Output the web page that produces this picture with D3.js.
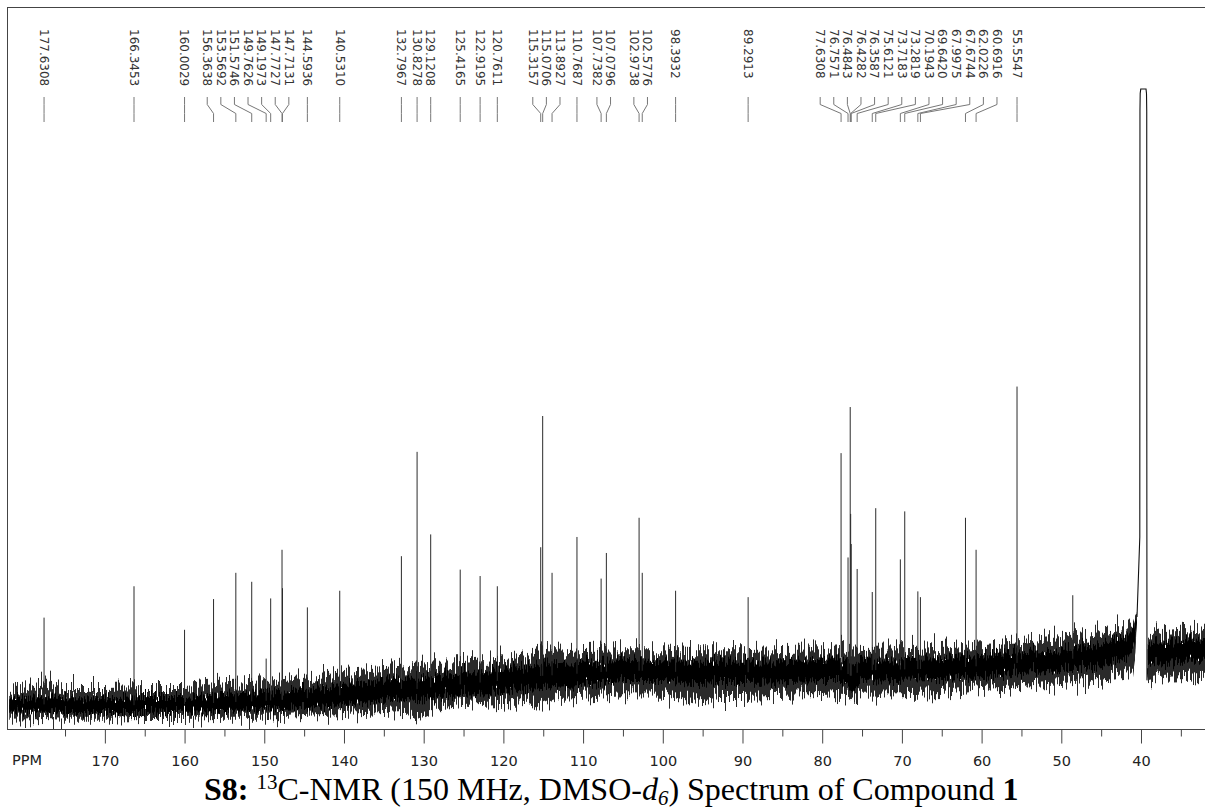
<!DOCTYPE html>
<html><head><meta charset="utf-8">
<script src="https://cdn.jsdelivr.net/npm/d3@7/dist/d3.min.js"></script>
<style>html,body{margin:0;padding:0;background:#fff;}svg{display:block;}</style>
</head><body>
<svg id="chart" width="1205" height="811"></svg>
<script>
// ---------------- data ----------------
const xDomain = [182.28, 31.97];          // ppm shown from left edge to right edge
const yDomain = [0, 112.8];               // relative intensity (solvent apex = 100)
const majorTicks = [170,160,150,140,130,120,110,100,90,80,70,60,50,40];
const minorTicks = [175,165,155,145,135,125,115,105,95,85,75,65,55,45,35];
const axisName = "PPM";

const peakPpm = [177.6308,166.3453,160.0029,156.3638,153.5692,151.5746,149.7626,149.1973,147.7727,147.7131,
  144.5936,140.5310,132.7967,130.8278,129.1208,125.4165,122.9195,120.7611,115.3157,115.0706,113.8927,
  110.7687,107.7382,107.0796,102.9738,102.5776,98.3932,89.2913,77.6308,76.7571,76.4843,76.4282,76.3587,
  75.6121,73.7183,73.2819,70.1943,69.6420,67.9975,67.6744,62.0226,60.6916,55.5547];
const peakHeight = [17.4,22.3,15.5,20.3,24.4,23.0,11.0,20.4,28.0,22.0,
  19.0,21.6,27.0,43.3,30.4,24.9,23.9,22.3,28.4,48.9,24.4,
  30.0,23.5,27.5,33.0,24.4,21.6,20.6,43.1,26.8,50.3,33.6,28.9,
  25.0,21.4,34.5,26.5,34.0,21.5,20.6,33.0,28.0,53.5];
const unlabeledPpm = [48.56];
const unlabeledHeight = [20.9];

// baseline noise band (left of solvent, then right of solvent)
const noisePpm = [182,177.6,175,170,165,160,155,150,145,140,135,132,130.8,128,125,120,117,115.2,113,110,105,100,96,93,90,85,80,77.5,76.4,75,70,65,60,55,50,45,42,41,40.7,40.5,
  null, 39.15,37,35,32,31.5];
const noiseTop = [6.1,7.0,6.25,6.25,6.4,6.4,7.0,7.3,8.0,8.75,9.2,9.5,9.8,10.2,10.3,10.9,11.4,12.3,11.9,12.2,12.3,12.3,12.0,12.0,12.0,12.2,12.3,12.7,12.3,12.2,12.3,12.5,13.1,13.6,14.2,15.0,15.8,17.0,18.0,18.2,
  null, 14.2,15.3,15.5,15.2,15.2];
const noiseCoreTop = [4.8,5.0,4.8,4.8,5.0,5.0,5.5,5.8,6.25,6.9,7.7,8.0,8.0,8.4,8.75,9.4,9.8,10.2,10.3,10.5,10.8,10.6,10.5,10.5,10.5,10.6,10.8,10.9,10.5,10.8,10.9,11.1,11.6,12.0,12.3,13.3,14.2,15.5,16.8,17.8,
  null, 13.1,13.75,13.9,13.75,13.75];
const noiseCoreBottom = [2.7,2.7,2.5,2.5,2.5,2.7,2.8,3.0,3.3,3.75,4.4,4.7,4.5,5.0,5.3,5.8,6.25,6.4,6.6,6.9,7.5,7.5,7.0,7.2,7.2,7.3,7.5,7.5,6.1,7.5,7.7,7.8,8.1,8.75,9.2,9.8,10.8,12.3,14.5,17.2,
  null, 10.0,10.3,10.5,10.5,10.5];
const noiseBottom = [1.6,1.7,1.6,1.6,1.7,1.7,1.9,1.9,2.2,2.5,2.8,3.0,1.7,3.4,3.75,4.1,4.4,3.75,5.0,5.2,5.6,5.5,4.1,5.0,5.0,5.2,5.3,5.5,4.8,5.5,5.6,5.8,6.4,6.7,7.2,7.7,8.3,9.5,12.0,16.8,
  null, 7.3,8.0,8.1,8.3,8.3];

// DMSO-d6 solvent signal outline
const solventPpm = [40.50,40.15,40.13,40.10,40.03,39.37,39.31,39.28,39.27,39.25,39.15];
const solventHeight = [17.5,30,96.5,99.3,100,100,99.3,96.5,45,7.6,9.5];

const titleParts = [
  {t:"S8:", w:"bold"}, {t:" "}, {t:"13", sup:true}, {t:"C-NMR (150 MHz, DMSO-"},
  {t:"d", i:true}, {t:"6", i:true, sub:true}, {t:") Spectrum of Compound "}, {t:"1", w:"bold"}
];

// ---------------- layout ----------------
const plot = {left:7, top:7, right:1205, bottom:729};
const svg = d3.select("#chart");
const x = d3.scaleLinear().domain(xDomain).range([plot.left, plot.right]);
const y = d3.scaleLinear().domain(yDomain).range([plot.bottom, plot.top]);

const defs = svg.append("defs");
defs.append("clipPath").attr("id", "plotclip").append("rect")
  .attr("x", plot.left+1).attr("y", plot.top+1).attr("width", plot.right-plot.left).attr("height", plot.bottom-plot.top-1);

// texture filters: per-column vertical jitter so the band reads like a dense noisy trace
function jitterFilter(id, seed, freq, scale){
  const f = defs.append("filter").attr("id", id).attr("filterUnits","userSpaceOnUse")
    .attr("x",0).attr("y",0).attr("width",1205).attr("height",811);
  f.append("feTurbulence").attr("type","fractalNoise").attr("baseFrequency",`${freq} 0.004`)
    .attr("numOctaves",2).attr("seed",seed).attr("result","turb");
  f.append("feColorMatrix").attr("in","turb").attr("type","matrix")
    .attr("values","0 0 0 0 0.5  0 1 0 0 0  0 0 0 0 0  0 0 0 0 1").attr("result","map");
  f.append("feDisplacementMap").attr("in","SourceGraphic").attr("in2","map")
    .attr("scale",scale).attr("xChannelSelector","R").attr("yChannelSelector","G");
}
jitterFilter("jagA", 3, 0.75, 44);
jitterFilter("jagB", 11, 0.75, 44);
jitterFilter("jagC", 23, 0.9, 24);

const band = noisePpm.map((p,i)=>({ppm:p, top:noiseTop[i], ct:noiseCoreTop[i], cb:noiseCoreBottom[i], bot:noiseBottom[i]}));
const g = svg.append("g").attr("clip-path", "url(#plotclip)");

const upperFringe = d3.area().defined(d=>d.ppm!=null).x(d=>x(d.ppm)).y0(d=>y((d.ct+d.cb)/2)).y1(d=>y(d.top));
const lowerFringe = d3.area().defined(d=>d.ppm!=null).x(d=>x(d.ppm)).y0(d=>y(d.bot)).y1(d=>y((d.ct+d.cb)/2));
const coreArea = d3.area().defined(d=>d.ppm!=null).x(d=>x(d.ppm)).y0(d=>y(d.cb)).y1(d=>y(d.ct));
g.append("path").attr("d", upperFringe(band)).attr("fill", "#2a2a2a").attr("filter","url(#jagA)");
g.append("path").attr("d", lowerFringe(band)).attr("fill", "#2a2a2a").attr("filter","url(#jagB)");
g.append("path").attr("d", coreArea(band)).attr("fill", "#000").attr("filter","url(#jagC)");

// baseline mid at a ppm (for where a peak line starts)
const valid = band.filter(d=>d.ppm!=null);
function baseMid(p){
  for(let i=0;i<valid.length-1;i++){
    const a=valid[i], b=valid[i+1];
    if(p<=a.ppm && p>=b.ppm){ const t=(a.ppm-p)/(a.ppm-b.ppm); return ((a.ct+a.cb)/2)*(1-t)+((b.ct+b.cb)/2)*t; }
  }
  return (valid[valid.length-1].ct+valid[valid.length-1].cb)/2;
}

const allPeaks = peakPpm.map((p,i)=>({ppm:p,h:peakHeight[i]})).concat(unlabeledPpm.map((p,i)=>({ppm:p,h:unlabeledHeight[i]})));
g.selectAll("line.peak").data(allPeaks).join("line").attr("class","peak")
  .attr("x1", d=>x(d.ppm)).attr("x2", d=>x(d.ppm))
  .attr("y1", d=>y(baseMid(d.ppm))).attr("y2", d=>y(d.h))
  .attr("stroke", "#2b2b2b").attr("stroke-width", 1);

const solvent = solventPpm.map((p,i)=>({ppm:p,h:solventHeight[i]}));
g.append("path").attr("d", d3.line().x(d=>x(d.ppm)).y(d=>y(d.h))(solvent))
  .attr("fill","none").attr("stroke","#111").attr("stroke-width",1.1);

// frame
const frameColor = "#444";
svg.append("line").attr("x1",plot.left).attr("x2",plot.right).attr("y1",plot.top+0.5).attr("y2",plot.top+0.5).attr("stroke",frameColor);
svg.append("line").attr("x1",plot.left+0.5).attr("x2",plot.left+0.5).attr("y1",plot.top).attr("y2",plot.bottom).attr("stroke",frameColor);

// axis
const axisG = svg.append("g").attr("transform", `translate(0,${plot.bottom+0.5})`);
axisG.call(d3.axisBottom(x).tickValues(majorTicks).tickSize(14).tickPadding(12).tickFormat(d3.format("d")));
axisG.select(".domain").attr("stroke", frameColor).attr("d", `M${plot.left},0H${plot.right}`);
axisG.selectAll(".tick line").attr("stroke", frameColor);
axisG.selectAll(".tick text").attr("font-family","'DejaVu Sans', Verdana, sans-serif").attr("font-size", 14.5).attr("fill","#222");
const minorG = svg.append("g").attr("transform", `translate(0,${plot.bottom+0.5})`);
minorG.call(d3.axisBottom(x).tickValues(minorTicks).tickSize(7).tickFormat(""));
minorG.select(".domain").remove();
minorG.selectAll(".tick line").attr("stroke", frameColor);
svg.append("text").attr("x", 12).attr("y", 765).text(axisName)
  .attr("font-family","'DejaVu Sans', Verdana, sans-serif").attr("font-size", 14.5).attr("fill","#222");

// peak labels with de-overlap
const S = 13.6;
const items = peakPpm.map(p=>({ppm:p, d:x(p), label:p.toFixed(4)})).sort((a,b)=>a.d-b.d);
function place(c){
  const n=c.items.length, d0=c.items[0].d, d1=c.items[n-1].d, need=(n-1)*S, span=d1-d0;
  if(n===1) c.items[0].p=d0;
  else if(span>=need) c.items.forEach((it,i)=>it.p=d0+i*span/(n-1));
  else { const p0=d0-(need-span)/2; c.items.forEach((it,i)=>it.p=p0+i*S); }
  c.left=c.items[0].p; c.right=c.items[n-1].p;
}
let clusters = items.map(it=>({items:[it]}));
clusters.forEach(place);
let again = true;
while(again){
  again=false;
  for(let i=0;i<clusters.length-1;i++){
    if(clusters[i+1].left-clusters[i].right < S-0.01){
      const c={items:clusters[i].items.concat(clusters[i+1].items)}; place(c);
      clusters.splice(i,2,c); again=true; break;
    }
  }
}
const lblTop = 29, l1 = 97, l2 = 104.5, l3 = 113.5, l4 = 122;
const lg = svg.append("g");
lg.selectAll("path.conn").data(items).join("path").attr("class","conn")
  .attr("d", d=>`M${d.p},${l1}V${l2}L${d.d},${l3}V${l4}`)
  .attr("fill","none").attr("stroke","#777").attr("stroke-width",1);
lg.selectAll("text.plabel").data(items).join("text").attr("class","plabel")
  .attr("transform", d=>`translate(${d.p},${lblTop}) rotate(90)`)
  .attr("dy","0.35em").attr("text-anchor","start")
  .attr("font-family","'DejaVu Sans', Verdana, sans-serif").attr("font-size",12).attr("fill","#333")
  .text(d=>d.label);

// title
const title = svg.append("text").attr("x", 204).attr("y", 800)
  .attr("font-family","'Liberation Serif','Times New Roman',serif").attr("font-size",32).attr("fill","#000");
let shift = 0;
titleParts.forEach(part=>{
  const ts = title.append("tspan").text(part.t);
  if(part.w) ts.attr("font-weight", part.w);
  if(part.i) ts.attr("font-style","italic");
  let target = 0;
  if(part.sup){ ts.attr("font-size",21); target=-11; }
  if(part.sub){ ts.attr("font-size",21); target=5; }
  ts.attr("dy", target-shift); shift = target;
});
</script>
</body></html>
